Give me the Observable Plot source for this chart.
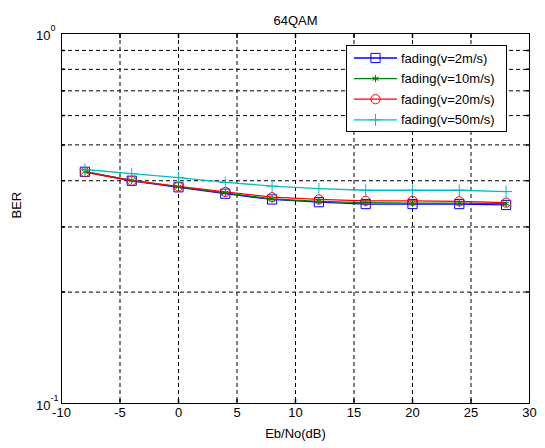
<!DOCTYPE html>
<html>
<head>
<meta charset="utf-8">
<script src="https://cdn.jsdelivr.net/npm/d3@7"></script>
<script src="https://cdn.jsdelivr.net/npm/@observablehq/plot@0.6"></script>
<style>
  html, body { margin: 0; padding: 0; background: #ffffff; }
  #chart { width: 545px; height: 448px; }
</style>
</head>
<body>
<div id="chart"></div>
<script>
// ---- data ----
const snr = [-8, -4, 0, 4, 8, 12, 16, 20, 24, 28];
const ber2 = [0.423, 0.400, 0.384, 0.369, 0.356, 0.350, 0.346, 0.346, 0.346, 0.344];
const ber10 = [0.423, 0.401, 0.385, 0.371, 0.357, 0.352, 0.349, 0.348, 0.348, 0.347];
const ber20 = [0.422, 0.400, 0.386, 0.373, 0.361, 0.356, 0.353, 0.353, 0.352, 0.349];
const ber50 = [0.429, 0.418, 0.408, 0.396, 0.387, 0.381, 0.377, 0.377, 0.377, 0.374];
const seriesNames = ["fading(v=2m/s)", "fading(v=10m/s)", "fading(v=20m/s)", "fading(v=50m/s)"];
const seriesColors = ["#0000ff", "#008000", "#ff0000", "#00bfbf"];
const seriesSymbols = ["square", "asterisk", "circle", "plus"];
const seriesRadius = [5.2, 3.4, 4.6, 3.9];
const xTicks = [-10, -5, 0, 5, 10, 15, 20, 25, 30];
const xGrid = [-5, 0, 5, 10, 15, 20, 25];
const yGrid = [0.2, 0.3, 0.4, 0.5, 0.6, 0.7, 0.8, 0.9];
const yTickVals = [1, 0.1];
const yTickExps = ["0", "-1"];
const titleText = "64QAM";
const xLabel = "Eb/No(dB)";
const yLabel = "BER";

const allSeries = [ber2, ber10, ber20, ber50];
const rows = [];
allSeries.forEach((vals, s) => vals.forEach((v, i) => rows.push({x: snr[i], y: v, s})));

const FONT = "'Liberation Sans', Arial, Helvetica, sans-serif";
const lineShape = {draw(ctx, l) { ctx.moveTo(0, 0); ctx.lineTo(0, -l); }};
const dash = "4,3";

const lineMarks = [];
const dotMarks = [];
allSeries.forEach((vals, s) => {
  const d = rows.filter(r => r.s === s);
  lineMarks.push(Plot.line(d, {x: "x", y: "y", stroke: seriesColors[s], strokeWidth: 1.3}));
  dotMarks.push(Plot.dot(d, {x: "x", y: "y", symbol: () => seriesSymbols[s], r: seriesRadius[s],
    stroke: seriesColors[s], fill: "none", strokeWidth: 1}));
});

const chart = Plot.plot({
  width: 545,
  height: 448,
  marginLeft: 61,
  marginRight: 16,
  marginTop: 33,
  marginBottom: 45,
  style: {fontFamily: FONT, fontSize: "13px", background: "#ffffff", color: "#000000"},
  x: {domain: [-10, 30], axis: null},
  y: {type: "log", domain: [0.1, 1], axis: null},
  symbol: {type: "identity"},
  marks: [
    Plot.ruleX(xGrid, {x: d => d, stroke: "#000", strokeDasharray: dash, strokeWidth: 1}),
    Plot.ruleY(yGrid, {y: d => d, stroke: "#000", strokeDasharray: dash, strokeWidth: 1}),
    Plot.vector(xGrid, {x: d => d, y: () => 0.1, length: 4, rotate: 0, anchor: "start", shape: lineShape, stroke: "#000"}),
    Plot.vector(xGrid, {x: d => d, y: () => 1, length: 4, rotate: 180, anchor: "start", shape: lineShape, stroke: "#000"}),
    Plot.vector(yGrid, {x: () => -10, y: d => d, length: 3, rotate: 90, anchor: "start", shape: lineShape, stroke: "#000"}),
    Plot.vector(yGrid, {x: () => 30, y: d => d, length: 3, rotate: 270, anchor: "start", shape: lineShape, stroke: "#000"}),
    ...lineMarks,
    ...dotMarks,
    Plot.frame({stroke: "#000", strokeWidth: 1}),
    Plot.axisX(xTicks, {tickSize: 0, tickPadding: 4, tickFormat: d => String(d), label: null, fontSize: 13}),
    Plot.text(yTickVals, {x: () => -10, y: d => d, text: () => "10", textAnchor: "end", dx: -11, dy: 2, fontSize: 13}),
    Plot.text(yTickVals, {x: () => -10, y: d => d, text: (d, i) => yTickExps[i], textAnchor: "start", dx: -11, dy: -5, fontSize: 9}),
    Plot.text([titleText], {frameAnchor: "top", dy: -18, fontSize: 13}),
    Plot.text([xLabel], {frameAnchor: "bottom", dy: 34, fontSize: 13}),
    Plot.text([yLabel], {frameAnchor: "left", dx: -45, rotate: -90, fontSize: 13})
  ]
});
document.getElementById("chart").appendChild(chart);

// ---- legend (inside the axes, top right) ----
const svg = d3.select(chart);
const lg = svg.append("g").attr("font-family", FONT).attr("font-size", 13).attr("text-anchor", "start");
lg.append("rect").attr("x", 346.5).attr("y", 45.5).attr("width", 160).attr("height", 86)
  .attr("fill", "#ffffff").attr("stroke", "#000000").attr("stroke-width", 1);
const symMap = {square: d3.symbolSquare, asterisk: d3.symbolAsterisk, circle: d3.symbolCircle, plus: d3.symbolPlus};
seriesNames.forEach((name, s) => {
  const cy = 58 + s * 20.6;
  lg.append("line").attr("x1", 354).attr("x2", 397).attr("y1", cy).attr("y2", cy)
    .attr("stroke", seriesColors[s]).attr("stroke-width", 1.3);
  const rr = seriesRadius[s];
  lg.append("path").attr("transform", `translate(375.5,${cy})`)
    .attr("d", d3.symbol(symMap[seriesSymbols[s]], Math.PI * rr * rr)())
    .attr("fill", "none").attr("stroke", seriesColors[s]).attr("stroke-width", 1);
  lg.append("text").attr("x", 401).attr("y", cy).attr("dy", "0.35em")
    .attr("text-anchor", "start").attr("fill", "#000").text(name);
});
</script>
</body>
</html>
